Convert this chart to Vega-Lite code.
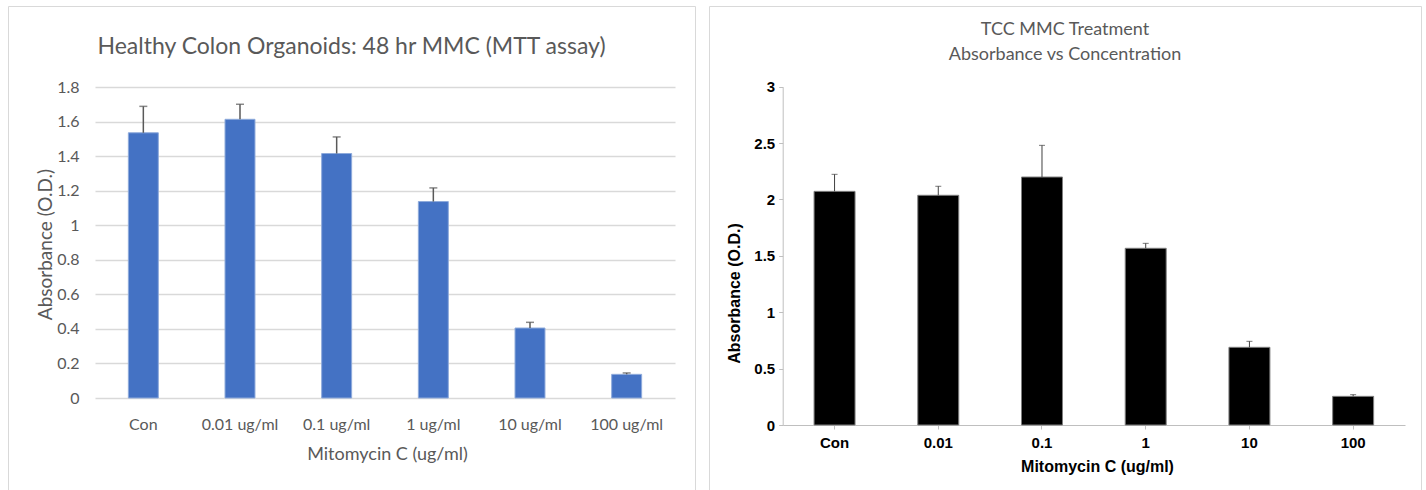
{
  "$schema": "https://vega.github.io/schema/vega-lite/v6.json",
  "padding": {"left": 7, "top": 5, "right": 0, "bottom": 0},
  "spacing": 12,
  "config": {
    "view": {"stroke": "#d9d9d9", "strokeWidth": 1},
    "background": "white"
  },
  "datasets": {
    "left": [
      {"cat": "Con", "value": 1.535, "err": 1.688},
      {"cat": "0.01 ug/ml", "value": 1.613, "err": 1.70},
      {"cat": "0.1 ug/ml", "value": 1.415, "err": 1.511},
      {"cat": "1 ug/ml", "value": 1.137, "err": 1.216},
      {"cat": "10 ug/ml", "value": 0.405, "err": 0.438},
      {"cat": "100 ug/ml", "value": 0.137, "err": 0.145}
    ],
    "right": [
      {"cat": "Con", "value": 2.072, "err": 2.223},
      {"cat": "0.01", "value": 2.037, "err": 2.117},
      {"cat": "0.1", "value": 2.199, "err": 2.48},
      {"cat": "1", "value": 1.567, "err": 1.611},
      {"cat": "10", "value": 0.689, "err": 0.742},
      {"cat": "100", "value": 0.254, "err": 0.269}
    ]
  },
  "hconcat": [
    {
      "width": 687,
      "height": 485,
      "data": {"name": "left"},
      "title": {
        "text": "Healthy Colon Organoids: 48 hr MMC (MTT assay)",
        "font": "Lato",
        "fontSize": 23,
        "fontWeight": "normal",
        "color": "#595959",
        "anchor": "middle",
        "frame": "group",
        "baseline": "middle",
        "offset": -64
      },
      "encoding": {
        "x": {
          "field": "cat",
          "type": "nominal",
          "sort": null,
          "scale": {"range": [87, 667], "paddingInner": 0.69, "paddingOuter": 0.345},
          "axis": {
            "title": "Mitomycin C (ug/ml)",
            "orient": "bottom",
            "offset": -93,
            "domain": false,
            "ticks": false,
            "tickSize": 0,
            "grid": false,
            "labelAngle": 0,
            "labelPadding": 26,
            "labelBaseline": "middle",
            "labelFont": "Lato",
            "labelFontSize": 16,
            "labelColor": "#595959",
            "titleFont": "Lato",
            "titleFontSize": 18,
            "titleFontWeight": "normal",
            "titleColor": "#595959",
            "titleX": 379,
            "titleY": 56,
            "titleAlign": "center",
            "titleBaseline": "middle"
          }
        }
      },
      "layer": [
        {
          "mark": {"type": "bar", "color": "#4472C4", "stroke": "#8eaadb", "strokeWidth": 1},
          "encoding": {
            "y": {
              "field": "value",
              "type": "quantitative",
              "scale": {"domain": [0, 1.8], "range": [392, 81], "nice": false},
              "axis": {
                "title": "Absorbance (O.D.)",
                "offset": -87,
                "domain": false,
                "ticks": false,
                "tickSize": 0,
                "labelPadding": 16,
                "values": [0, 0.2, 0.4, 0.6, 0.8, 1, 1.2, 1.4, 1.6, 1.8],
                "format": "~g",
                "grid": true,
                "gridColor": "#d9d9d9",
                "gridWidth": 1.5,
                "labelFont": "Lato",
                "labelFontSize": 16,
                "labelColor": "#595959",
                "titleFont": "Lato",
                "titleFontSize": 19,
                "titleFontWeight": "normal",
                "titleColor": "#595959",
                "titleX": -50,
                "titleY": 238,
                "titleAngle": -90,
                "titleAlign": "center",
                "titleBaseline": "middle"
              }
            }
          }
        },
        {
          "mark": {"type": "rule", "color": "#595959", "strokeWidth": 1.5},
          "encoding": {
            "y": {"field": "value", "type": "quantitative"},
            "y2": {"field": "err"}
          }
        },
        {
          "mark": {"type": "tick", "color": "#595959", "thickness": 1.5, "size": 8},
          "encoding": {
            "y": {"field": "err", "type": "quantitative"}
          }
        }
      ]
    },
    {
      "width": 712,
      "height": 485,
      "data": {"name": "right"},
      "title": {
        "text": ["TCC MMC Treatment", "Absorbance vs Concentration"],
        "font": "Lato",
        "fontSize": 18,
        "fontWeight": "normal",
        "color": "#595959",
        "anchor": "middle",
        "frame": "group",
        "baseline": "middle",
        "lineHeight": 25,
        "offset": -67
      },
      "encoding": {
        "x": {
          "field": "cat",
          "type": "nominal",
          "sort": null,
          "scale": {"range": [73.7, 696], "paddingInner": 0.605, "paddingOuter": 0.3025},
          "axis": {
            "title": "Mitomycin C (ug/ml)",
            "orient": "bottom",
            "offset": -66,
            "domain": true,
            "domainColor": "#bfbfbf",
            "domainWidth": 1,
            "ticks": true,
            "tickColor": "#bfbfbf",
            "tickSize": 4,
            "grid": false,
            "labelAngle": 0,
            "labelPadding": 13.7,
            "labelBaseline": "middle",
            "labelFont": "Liberation Sans",
            "labelFontWeight": "bold",
            "labelFontSize": 15,
            "labelColor": "#000000",
            "titleFont": "Liberation Sans",
            "titleFontSize": 16,
            "titleFontWeight": "bold",
            "titleColor": "#000000",
            "titleX": 388,
            "titleY": 41,
            "titleAlign": "center",
            "titleBaseline": "middle"
          }
        }
      },
      "layer": [
        {
          "mark": {"type": "bar", "color": "#000000", "stroke": "#7f7f7f", "strokeWidth": 1},
          "encoding": {
            "y": {
              "field": "value",
              "type": "quantitative",
              "scale": {"domain": [0, 3], "range": [419, 80.7], "nice": false},
              "axis": {
                "title": "Absorbance (O.D.)",
                "offset": -73.7,
                "domain": true,
                "domainColor": "#bfbfbf",
                "domainWidth": 1,
                "ticks": true,
                "tickColor": "#bfbfbf",
                "tickSize": 4,
                "labelPadding": 4,
                "values": [0, 0.5, 1, 1.5, 2, 2.5, 3],
                "format": "~g",
                "grid": false,
                "labelFont": "Liberation Sans",
                "labelFontWeight": "bold",
                "labelFontSize": 15,
                "labelColor": "#000000",
                "titleFont": "Liberation Sans",
                "titleFontSize": 16,
                "titleFontWeight": "bold",
                "titleColor": "#000000",
                "titleX": -48.7,
                "titleY": 287,
                "titleAngle": -90,
                "titleAlign": "center",
                "titleBaseline": "middle"
              }
            }
          }
        },
        {
          "mark": {"type": "rule", "color": "#404040", "strokeWidth": 1},
          "encoding": {
            "y": {"field": "value", "type": "quantitative"},
            "y2": {"field": "err"}
          }
        },
        {
          "mark": {"type": "tick", "color": "#404040", "thickness": 1, "size": 6},
          "encoding": {
            "y": {"field": "err", "type": "quantitative"}
          }
        }
      ]
    }
  ]
}
